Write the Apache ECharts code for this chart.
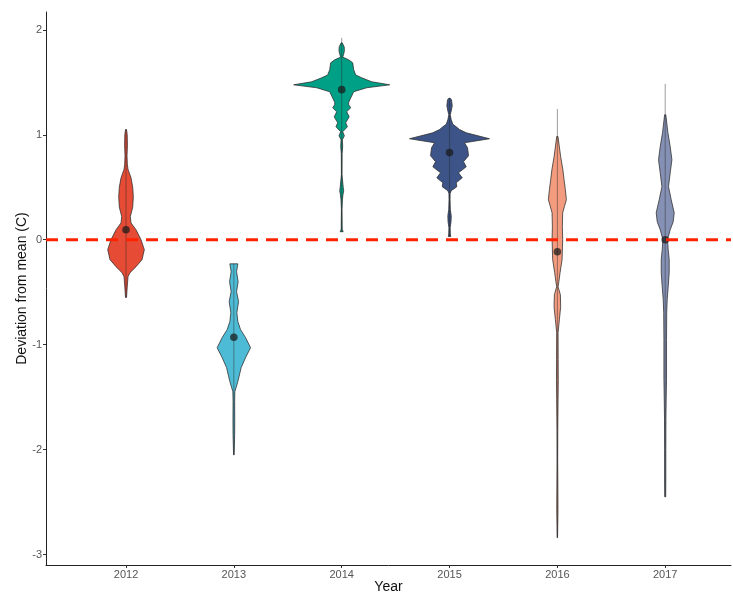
<!DOCTYPE html>
<html><head><meta charset="utf-8">
<script src="https://cdn.jsdelivr.net/npm/echarts@6/dist/echarts.min.js"></script>
<style>html,body{margin:0;padding:0;background:#fff}#c{width:733px;height:595px}</style>
</head><body><div id="c"></div>
<script>
// ---- data ----
const years = ['2012', '2013', '2014', '2015', '2016', '2017'];
const yTicks = [-3, -2, -1, 0, 1, 2];
const xTicks = [1, 2, 3, 4, 5, 6];
const means = [0.095, -0.93, 1.43, 0.83, -0.115, 0.0];
const rangeMin = [-0.55, -2.05, 0.076, 0.03, -2.84, -2.45];
const rangeMax = [1.05, -0.23, 1.924, 1.35, 1.245, 1.486];
const refLineValue = 0;
// density profiles: [deviation value, relative density (half-width)]
const density2012 = [[1.05,0.5],[1.0,1.2],[0.9,1.4],[0.8,1.0],[0.72,1.3],[0.67,2],[0.59,5],[0.50,6.7],[0.41,7.3],[0.31,6.7],[0.22,4.3],[0.16,5],[0.095,10],[0.0,15],[-0.095,18.3],[-0.19,16],[-0.257,10],[-0.314,4],[-0.352,2],[-0.45,1.2],[-0.55,0.5]];
const density2013 = [[-0.23,4],[-0.305,2.7],[-0.4,4.3],[-0.495,2.7],[-0.59,4.7],[-0.695,3],[-0.78,4],[-0.857,6.7],[-0.933,11.7],[-1.029,16.7],[-1.124,11.7],[-1.219,7.3],[-1.352,4],[-1.448,1],[-1.543,0.8],[-1.714,0.9],[-1.857,0.8],[-2.05,0.3]];
const density2014 = [[1.876,0.5],[1.838,2.5],[1.8,2.7],[1.762,1.8],[1.74,1.0],[1.714,7],[1.686,11],[1.62,12],[1.57,14],[1.543,20],[1.505,30],[1.476,48],[1.448,25],[1.41,12],[1.35,9],[1.31,7],[1.286,7],[1.257,9],[1.219,5],[1.171,7.5],[1.114,4],[1.076,5.7],[1.029,1],[0.99,2.7],[0.952,0.6],[0.89,1.0],[0.82,0.4],[0.62,0.3],[0.5,1.5],[0.467,2],[0.43,1.3],[0.38,0.7],[0.29,0.3],[0.1,0.5],[0.076,1.5]];
const density2015 = [[1.35,0.4],[1.333,2],[1.276,2.7],[1.219,1.5],[1.19,0.7],[1.143,1.7],[1.1,3.3],[1.076,6.7],[1.05,10],[1.019,16.7],[0.962,40],[0.924,15],[0.876,18],[0.8,19],[0.743,14],[0.695,16.7],[0.638,9],[0.59,12.7],[0.543,6.7],[0.505,7.3],[0.467,1.7],[0.44,0.6],[0.381,0.5],[0.286,0.8],[0.229,1.7],[0.171,1.5],[0.114,0.6],[0.057,0.8],[0.03,1.2]];
const density2016 = [[0.984,0.6],[0.79,3.3],[0.667,5.5],[0.571,6.7],[0.476,8],[0.381,9],[0.314,7],[0.257,5.3],[0.124,5],[0.0,5.3],[-0.19,4.7],[-0.314,2.7],[-0.4,1.5],[-0.448,0.7],[-0.524,3],[-0.638,3.3],[-0.762,2],[-0.886,0.7],[-1.14,0.8],[-1.33,0.9],[-1.52,0.7],[-1.81,0.4],[-2.1,0.3],[-2.38,0.5],[-2.57,0.6],[-2.71,0.4],[-2.84,0.2]];
const density2017 = [[1.19,0.6],[1.019,2.7],[0.886,5],[0.762,6.7],[0.638,5],[0.505,3.3],[0.381,6],[0.257,9],[0.171,8],[0.095,5],[0.0,2.3],[-0.095,3],[-0.19,4],[-0.314,4],[-0.448,3],[-0.571,2],[-0.695,1.5],[-0.952,1.3],[-1.33,1.3],[-1.5,1],[-1.71,0.7],[-2.0,0.6],[-2.29,0.6],[-2.45,0.5]];
const densities = [density2012, density2013, density2014, density2015, density2016, density2017];

// ---- styles ----
const colors = ['#E64B35', '#4DBBD5', '#00A087', '#3C5488', '#F39B7F', '#8491B4'];
const X_MIN = 0.258, X_MAX = 6.61;
const densityScale = 1 / 107.84;
const FONT = '"Liberation Sans", Arial, Helvetica, sans-serif';

const chart = echarts.init(document.getElementById('c'), null, {renderer: 'canvas'});

function renderViolin(params, api) {
  const i = params.dataIndex;
  const x = api.value(0);
  const prof = densities[i];
  const right = prof.map(p => api.coord([x + p[1] * densityScale, p[0]]));
  const left = prof.slice().reverse().map(p => api.coord([x - p[1] * densityScale, p[0]]));
  const top = api.coord([x, api.value(2)]);
  const bot = api.coord([x, api.value(1)]);
  const m = api.coord([x, api.value(3)]);
  return {
    type: 'group',
    children: [
      {type: 'polygon', shape: {points: right.concat(left)},
       style: {fill: colors[i], stroke: 'rgba(45,45,45,0.85)', lineWidth: 0.9}},
      {type: 'line', shape: {x1: top[0], y1: top[1], x2: bot[0], y2: bot[1]},
       style: {stroke: 'rgba(40,40,40,0.45)', lineWidth: 1}},
      {type: 'circle', shape: {cx: m[0], cy: m[1], r: 3.8},
       style: {fill: 'rgba(25,25,25,0.72)'}}
    ]
  };
}

chart.setOption({
  animation: false,
  backgroundColor: '#ffffff',
  grid: {left: 46, right: 2, top: 12, bottom: 30, containLabel: false, outerBoundsMode: 'none'},
  xAxis: {
    type: 'value', min: X_MIN, max: X_MAX,
    name: 'Year', nameLocation: 'middle', nameGap: 15, nameMoveOverlap: false,
    nameTextStyle: {fontFamily: FONT, fontSize: 14, color: '#111'},
    axisLine: {show: true, onZero: false, lineStyle: {color: '#222', width: 1}},
    axisTick: {show: true, length: 3, customValues: xTicks, lineStyle: {color: '#333'}},
    axisLabel: {customValues: xTicks, margin: 4, fontFamily: FONT, fontSize: 11, color: '#555',
      formatter: v => years[Math.round(v) - 1] || ''},
    splitLine: {show: false}
  },
  yAxis: {
    type: 'value', min: -3.1, max: 2.17,
    name: 'Deviation from mean (C)', nameLocation: 'middle', nameGap: 17, nameMoveOverlap: false,
    nameTextStyle: {fontFamily: FONT, fontSize: 14, color: '#111'},
    axisLine: {show: true, onZero: false, lineStyle: {color: '#222', width: 1}},
    axisTick: {show: true, length: 3, customValues: yTicks, lineStyle: {color: '#333'}},
    axisLabel: {customValues: yTicks, margin: 4, fontFamily: FONT, fontSize: 11, color: '#555'},
    splitLine: {show: false}
  },
  series: [
    {
      type: 'custom', renderItem: renderViolin, z: 2,
      data: years.map((y, i) => [xTicks[i], rangeMin[i], rangeMax[i], means[i]])
    },
    {
      type: 'line', z: 5, symbol: 'none', silent: true,
      data: [[X_MIN, refLineValue], [X_MAX, refLineValue]],
      lineStyle: {color: '#FF2200', width: 3, type: [12, 8]}
    }
  ]
});
</script>
</body></html>
